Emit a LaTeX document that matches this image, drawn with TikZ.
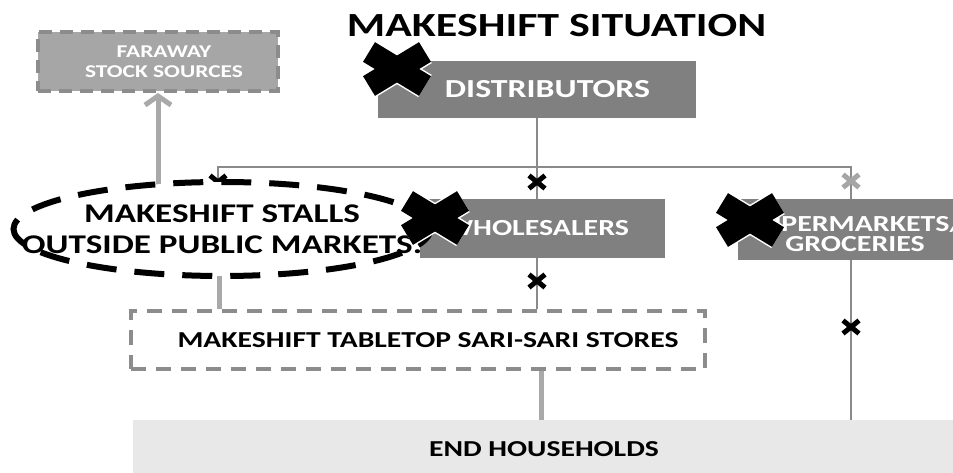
\documentclass[tikz,border=0pt]{standalone}
\usepackage{fontspec}
\newfontfamily\lbl[FakeStretch=1.3]{Carlito}
\usetikzlibrary{arrows.meta,shapes.geometric}
\definecolor{boxgray}{HTML}{808080}
\definecolor{farfill}{HTML}{A6A6A6}
\definecolor{dashgray}{HTML}{8C8C8C}
\definecolor{linegray}{HTML}{8A8A8A}
\definecolor{thickgray}{HTML}{A9A9A9}
\definecolor{endfill}{HTML}{E8E8E8}
\tikzset{
  smallx/.pic={\draw[line width=5pt,#1] (-8,-6.5) -- (8,6.5) (-8,6.5) -- (8,-6.5);},
  smallx/.default=black,
  bigx/.pic={
    \draw[white,line width=26pt] (-28,-17) -- (28,17) (-28,17) -- (28,-17);
    \draw[black,line width=23pt] (-28,-17) -- (28,17) (-28,17) -- (28,-17);}
}
\begin{document}
\begin{tikzpicture}[x=1pt,y=-1pt,
  darkbox/.style={fill=boxgray,text=white,inner sep=0pt,align=center,
    font=\lbl\bfseries\fontsize{23}{20.5}\selectfont},
  thinline/.style={draw=linegray,line width=2.5pt},
  thickline/.style={draw=thickgray,line width=5pt}]
\clip (0,0) rectangle (953,473);
\fill[white] (0,0) rectangle (953,473);

% boxes
\node[font=\lbl\bfseries\fontsize{33.8}{36}\selectfont] (title) at (556.5,25.5) {MAKESHIFT SITUATION};
\node[fill=farfill,draw=dashgray,line width=4pt,dash pattern=on 13pt off 8pt,
  minimum width=240,minimum height=59,inner sep=0pt,align=center,text=white,
  font=\lbl\bfseries\fontsize{18}{20}\selectfont] (far) at (158,61.5) {\hspace*{12pt}FARAWAY\\\hspace*{12pt}STOCK SOURCES};
\node[darkbox,minimum width=318,minimum height=57,font=\lbl\bfseries\fontsize{26}{30}\selectfont] (dist) at (537,89.5) {\hspace*{21pt}DISTRIBUTORS};
\node[darkbox,minimum width=245,minimum height=59] (whole) at (542.5,228.5) {WHOLESALERS\hspace*{10pt}};
\node[darkbox,minimum width=234,minimum height=61] (super) at (855,229.5) {\rule{0pt}{24pt}SUPERMARKETS/\\GROCERIES};
\node[draw=dashgray,fill=white,line width=4pt,dash pattern=on 15pt off 10pt,
  minimum width=574,minimum height=58,inner sep=0pt,
  font=\lbl\bfseries\fontsize{22.8}{24}\selectfont] (table) at (418,340) {\hspace*{20pt}MAKESHIFT TABLETOP SARI-SARI STORES};
\node[fill=endfill,minimum width=822,minimum height=58,inner sep=0pt,
  font=\lbl\bfseries\fontsize{22.8}{24}\selectfont] (house) at (544,449) {END HOUSEHOLDS};

% connectors
\coordinate (jl) at (218,167);
\coordinate (jr) at (851,167);
\draw[thinline] (dist.south) -- (dist.south |- whole.north);
\draw[thinline,line width=2pt] (jl |- 0,186) -- (jl) -- (jr) -- (jr |- super.north);
\draw[thinline] (dist.south |- whole.south) -- (dist.south |- table.north);
\draw[thinline] (jr |- super.south) -- (jr |- house.north);
\draw[thickline] (541,0 |- table.south) -- (541,0 |- house.north);
\draw[thickline,-{Straight Barb[length=9pt,width=26pt]}] (far.south |- 0,190) -- (far.south);
\draw[thickline] (219,270) -- (219,0 |- table.north);

% small crosses
\pic at (218,182) {smallx};
\pic at (537,182) {smallx};
\pic at (851,181) {smallx=farfill};
\pic at (537,281) {smallx};
\pic at (851,327) {smallx};

% stalls
\node[ellipse,draw=black,fill=white,line width=6pt,dash pattern=on 30pt off 18pt,
  minimum width=417,minimum height=94,inner xsep=-60pt,inner ysep=0pt,align=center,
  font=\lbl\bfseries\fontsize{27}{31}\selectfont] (stalls) at (222,229)
  {MAKESHIFT STALLS\\OUTSIDE PUBLIC MARKETS.};

% big crosses
\pic at (397,69) {bigx};
\pic at (435,218) {bigx};
\pic at (750,220) {bigx};
\end{tikzpicture}
\end{document}
